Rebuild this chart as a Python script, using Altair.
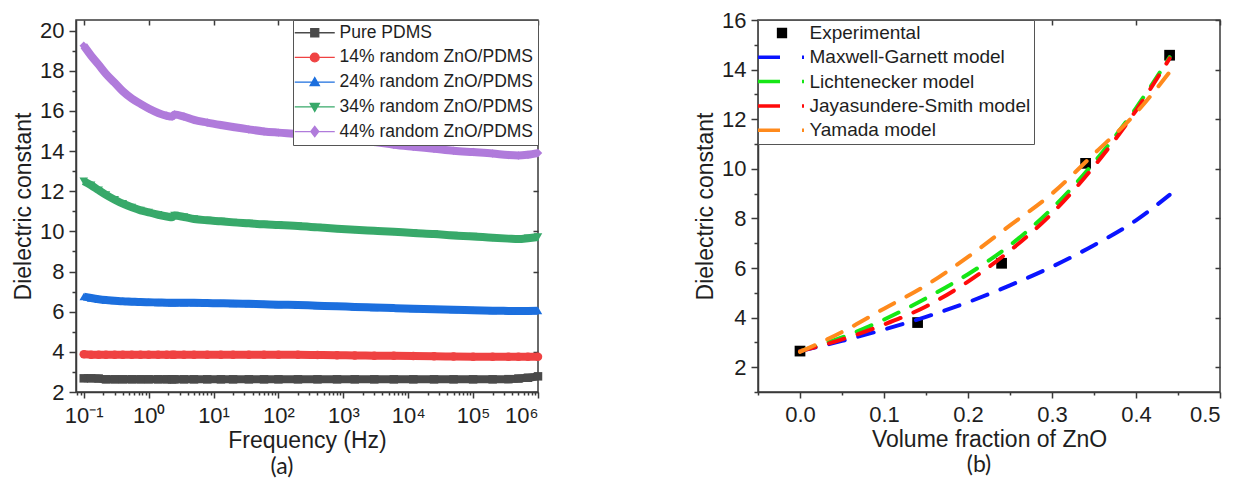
import json
import altair as alt
import pandas as pd

# ---------------- Panel (a): dielectric constant vs frequency ----------------
freq = [0.1, 0.13, 0.17, 0.22, 0.3, 0.4, 0.55, 0.75, 1, 1.4, 1.9, 2.3, 2.5, 3.5, 5, 8,
        13, 20, 35, 60, 100, 200, 400, 800, 1500, 3000, 6000, 12000, 25000, 50000,
        100000, 200000, 350000, 500000, 700000, 1000000]
pure_pdms = [2.68, 2.68, 2.67, 2.63, 2.63, 2.63, 2.63, 2.63, 2.63, 2.63, 2.63, 2.63,
             2.63, 2.63, 2.63, 2.63, 2.63, 2.63, 2.63, 2.63, 2.63, 2.63, 2.63, 2.63,
             2.63, 2.63, 2.63, 2.63, 2.63, 2.63, 2.63, 2.63, 2.64, 2.67, 2.71, 2.78]
zno14 = [3.88, 3.86, 3.85, 3.85, 3.85, 3.85, 3.85, 3.85, 3.85, 3.85, 3.85, 3.85,
         3.85, 3.85, 3.86, 3.86, 3.86, 3.86, 3.86, 3.86, 3.85, 3.85, 3.84, 3.83,
         3.82, 3.81, 3.80, 3.79, 3.78, 3.77, 3.76, 3.75, 3.75, 3.75, 3.75, 3.76]
zno24 = [6.75, 6.68, 6.62, 6.58, 6.55, 6.52, 6.50, 6.48, 6.47, 6.46, 6.45, 6.44,
         6.44, 6.44, 6.44, 6.43, 6.42, 6.41, 6.39, 6.37, 6.35, 6.33, 6.30, 6.27,
         6.24, 6.21, 6.18, 6.15, 6.12, 6.10, 6.07, 6.05, 6.04, 6.03, 6.04, 6.05]
zno34 = [12.50, 12.30, 12.05, 11.82, 11.58, 11.38, 11.20, 11.05, 10.95, 10.83, 10.74, 10.70,
         10.79, 10.72, 10.62, 10.55, 10.50, 10.45, 10.40, 10.35, 10.32, 10.27, 10.20, 10.13,
         10.08, 10.03, 9.98, 9.92, 9.87, 9.80, 9.75, 9.68, 9.64, 9.62, 9.66, 9.72]
zno44 = [19.25, 18.75, 18.30, 17.85, 17.40, 16.98, 16.62, 16.35, 16.12, 15.90, 15.76, 15.72,
         15.82, 15.72, 15.55, 15.42, 15.30, 15.20, 15.08, 14.98, 14.92, 14.85, 14.75, 14.65,
         14.55, 14.45, 14.32, 14.22, 14.12, 14.02, 13.95, 13.88, 13.80, 13.78, 13.82, 13.90]

series_a = ["Pure PDMS", "14% random ZnO/PDMS", "24% random ZnO/PDMS",
            "34% random ZnO/PDMS", "44% random ZnO/PDMS"]
colors_a = ["#4a4a4a", "#ef4242", "#1c6fde", "#38a96a", "#b07bdb"]
shapes_a = ["square", "circle", "triangle-up", "triangle-down", "diamond"]
legend_paths_a = [
    "M-5,0H5M-1,-1H1V1H-1Z",
    "M-5,0H5M-1.1,0A1.1,1.1,0,1,1,1.1,0A1.1,1.1,0,1,1,-1.1,0Z",
    "M-5,0H5M0,-1.15L1.15,0.85L-1.15,0.85Z",
    "M-5,0H5M0,1.15L1.15,-0.85L-1.15,-0.85Z",
    "M-5,0H5M0,-1.3L1,0L0,1.3L-1,0Z",
]
exp_labels = ["10⁻¹", "10⁰", "10¹", "10²", "10³", "10⁴", "10⁵", "10⁶"]
x_ticks_a = [0.08, 0.09] + [m * 10 ** e for e in range(-1, 6) for m in range(1, 10)] + [1000000]
y_ticks_a = list(range(2, 21))

rows = []
for name, vals in zip(series_a, [pure_pdms, zno14, zno24, zno34, zno44]):
    for f, v in zip(freq, vals):
        rows.append({"f": f, "eps": v, "series": name})
df_a = pd.DataFrame(rows)

# ---------------- Panel (b): dielectric constant vs volume fraction ----------------
phi_exp = [0.0, 0.14, 0.24, 0.34, 0.44]
eps_exp = [2.65, 3.80, 6.19, 10.22, 14.58]

phi_model = [0.0, 0.05, 0.10, 0.15, 0.20, 0.25, 0.30, 0.35, 0.40, 0.44]
maxwell_garnett = [2.65, 3.06, 3.52, 4.03, 4.62, 5.30, 6.05, 6.92, 7.92, 8.95]
lichtenecker = [2.65, 3.20, 3.92, 4.78, 5.75, 6.92, 8.40, 10.25, 12.45, 14.50]
jayasundere_smith = [2.65, 3.12, 3.72, 4.45, 5.45, 6.70, 8.20, 10.10, 12.35, 14.45]
yamada = [2.62, 3.42, 4.36, 5.30, 6.45, 7.72, 9.00, 10.60, 12.25, 13.90]

models_b = ["Maxwell-Garnett model", "Lichtenecker model",
            "Jayasundere-Smith model", "Yamada model"]
colors_models = ["#0a14ff", "#16e616", "#ff0a0a", "#ff8a1c"]
legend_b = ["Experimental"] + models_b
colors_legend_b = ["#000000"] + colors_models
legend_paths_b = ["M-0.85,-0.85H0.85V0.85H-0.85Z"] + ["M-6,0H-0.5M5,0H5.5"] * 4
x_ticks_b = [-0.05, 0.0, 0.05, 0.1, 0.15, 0.2, 0.25, 0.3, 0.35, 0.4, 0.45, 0.5]
y_ticks_b = list(range(1, 17))

rows = []
for name, vals in zip(models_b, [maxwell_garnett, lichtenecker, jayasundere_smith, yamada]):
    for p, v in zip(phi_model, vals):
        rows.append({"phi": p, "eps": v, "model": name})
df_models = pd.DataFrame(rows)
df_exp = pd.DataFrame({"phi": phi_exp, "eps": eps_exp, "model": "Experimental"})

# ---------------- styling helpers ----------------
FONT = "Liberation Sans"
TXT = "#1e1e1e"
AX = "#3a3a3a"

log_major = "abs(log(datum.value)/LN10 - round(log(datum.value)/LN10)) < 0.001"
even_major = "datum.value % 2 == 0"
tenth_major = "abs(datum.value*10 - round(datum.value*10)) < 0.001"

x_scale_a = alt.Scale(type="log", domain=[0.076, 1000000], nice=False)
y_scale_a = alt.Scale(domain=[2, 20.53], nice=False, zero=False)
x_scale_b = alt.Scale(domain=[-0.05, 0.5], nice=False, zero=False)
y_scale_b = alt.Scale(domain=[1, 16], nice=False, zero=False)

x_axis_a = alt.Axis(
    values=x_ticks_a, labelOverlap=False, grid=False,
    labelExpr=f"{log_major} ? {json.dumps(exp_labels, ensure_ascii=False)}[round(log(datum.value)/LN10)+1] : ''",
    tickSize={"condition": {"test": log_major, "value": 6}, "value": 3},
    labelPadding=7, title="Frequency (Hz)", titlePadding=3,
)
y_axis_a = alt.Axis(
    values=y_ticks_a, labelOverlap=False, grid=False,
    labelExpr=f"{even_major} ? datum.value : ''",
    tickSize={"condition": {"test": even_major, "value": 7}, "value": 4},
    labelPadding=5, title="Dielectric constant", titlePadding=4,
)
x_axis_b = alt.Axis(
    values=x_ticks_b, labelOverlap=False, grid=False,
    labelExpr=f"{tenth_major} ? format(datum.value, '.1f') : ''",
    tickSize={"condition": {"test": tenth_major, "value": 6}, "value": 3},
    labelPadding=6, title="Volume fraction of ZnO", titlePadding=3,
)
y_axis_b = alt.Axis(
    values=y_ticks_b, labelOverlap=False, grid=False,
    labelExpr=f"{even_major} ? datum.value : ''",
    tickSize={"condition": {"test": even_major, "value": 7}, "value": 4},
    labelPadding=5, title="Dielectric constant", titlePadding=4,
)

def mirror_axis(orient, values):
    return alt.Axis(orient=orient, values=values, labels=False, title=None, grid=False,
                    domain=False, tickSize=5, offset=-5)

# ---------------- Panel (a) layers ----------------
base_a = alt.Chart(df_a)
xa = alt.X("f:Q", scale=x_scale_a, axis=x_axis_a)
ya = alt.Y("eps:Q", scale=y_scale_a, axis=y_axis_a)
xa_n = alt.X("f:Q", scale=x_scale_a, axis=None)
ya_n = alt.Y("eps:Q", scale=y_scale_a, axis=None)
# colour scale for the data marks (domain listed in reverse so it is not merged
# with the legend-only scales below)
color_a = alt.Color("series:N",
                    scale=alt.Scale(domain=series_a[::-1], range=colors_a[::-1]),
                    legend=None)

lines_a = base_a.mark_line(strokeWidth=8, interpolate="monotone").encode(
    x=xa, y=ya, color=color_a)

point_layers = []
for name, shp in zip(series_a, shapes_a):
    point_layers.append(
        base_a.transform_filter(alt.datum.series == name)
        .mark_point(filled=True, size=72, opacity=1, shape=shp)
        .encode(x=xa_n, y=ya_n, color=color_a)
    )

legend_a = alt.Legend(
    title=None, orient="top-right", offset=0, padding=4, strokeColor="#555555",
    fillColor="white", labelFont=FONT, labelFontSize=17.5, labelColor=TXT,
    symbolSize=64, symbolStrokeWidth=1.3, symbolOffset=9, labelOffset=16,
    rowPadding=5.7, labelLimit=400,
)
legend_layer_a = base_a.transform_filter("false").mark_point(filled=True, opacity=1, size=64).encode(
    x=xa_n, y=ya_n,
    fill=alt.Fill("series:N", scale=alt.Scale(domain=series_a, range=colors_a), legend=legend_a),
    stroke=alt.Stroke("series:N", scale=alt.Scale(domain=series_a, range=colors_a), legend=legend_a),
    shape=alt.Shape("series:N", scale=alt.Scale(domain=series_a, range=legend_paths_a), legend=legend_a),
)
mirror_a = base_a.mark_point(opacity=0).encode(
    x=alt.X("f:Q", scale=x_scale_a,
            axis=mirror_axis("top", [0.1, 1, 10, 100, 1000, 10000, 100000, 1000000])),
    y=alt.Y("eps:Q", scale=y_scale_a, axis=mirror_axis("right", list(range(2, 21, 2)))),
)

chart_a = alt.layer(lines_a, *point_layers, legend_layer_a, mirror_a).resolve_axis(
    x="independent", y="independent").properties(
    width=462, height=372,
    title=alt.TitleParams("(a)", orient="bottom", anchor="middle", frame="group",
                          font="Lato", fontSize=23, fontWeight="normal", color=TXT,
                          offset=4, dx=-25),
)

# ---------------- Panel (b) layers ----------------
xb = alt.X("phi:Q", scale=x_scale_b, axis=x_axis_b)
yb = alt.Y("eps:Q", scale=y_scale_b, axis=y_axis_b)
xb_n = alt.X("phi:Q", scale=x_scale_b, axis=None)
yb_n = alt.Y("eps:Q", scale=y_scale_b, axis=None)
exp_b = alt.Chart(df_exp).mark_square(size=115, color="#000000", opacity=1).encode(x=xb, y=yb)
lines_b = alt.Chart(df_models).mark_line(
    strokeWidth=4, strokeDash=[16, 14], strokeCap="round", interpolate="monotone").encode(
    x=xb_n, y=yb_n,
    color=alt.Color("model:N", scale=alt.Scale(domain=models_b, range=colors_models), legend=None),
)
legend_b_obj = alt.Legend(
    title=None, orient="top-left", offset=0, padding=3.5, strokeColor="#555555",
    fillColor="white", labelFont=FONT, labelFontSize=19, labelColor=TXT,
    symbolSize=64, symbolStrokeWidth=3.5, symbolOffset=11, labelOffset=18,
    rowPadding=4.3, labelLimit=400,
)
legend_layer_b = alt.Chart(df_models).transform_filter("false").mark_point(
    filled=True, opacity=1, size=64).encode(
    x=xb_n, y=yb_n,
    fill=alt.Fill("model:N", scale=alt.Scale(domain=legend_b, range=colors_legend_b), legend=legend_b_obj),
    stroke=alt.Stroke("model:N", scale=alt.Scale(domain=legend_b, range=colors_legend_b), legend=legend_b_obj),
    shape=alt.Shape("model:N", scale=alt.Scale(domain=legend_b, range=legend_paths_b), legend=legend_b_obj),
)
mirror_b = alt.Chart(df_models).mark_point(opacity=0).encode(
    x=alt.X("phi:Q", scale=x_scale_b, axis=mirror_axis("top", [0.0, 0.1, 0.2, 0.3, 0.4, 0.5])),
    y=alt.Y("eps:Q", scale=y_scale_b, axis=mirror_axis("right", list(range(2, 17, 2)))),
)

chart_b = alt.layer(exp_b, lines_b, legend_layer_b, mirror_b).resolve_axis(
    x="independent", y="independent").properties(
    width=462, height=372,
    title=alt.TitleParams("(b)", orient="bottom", anchor="middle", frame="group",
                          font="Lato", fontSize=23, fontWeight="normal", color=TXT,
                          offset=3, dx=-10),
)

chart = alt.hconcat(chart_a, chart_b, spacing=220, bounds="flush").resolve_scale(
    color="independent", fill="independent", stroke="independent", shape="independent",
).resolve_legend(
    color="independent", fill="independent", stroke="independent", shape="independent",
).properties(
    padding={"left": 3, "top": 0, "right": 0, "bottom": 0},
    background="white",
).configure_view(
    stroke=AX, strokeWidth=1.5,
).configure_axis(
    labelFont=FONT, labelFontSize=22, labelColor=TXT,
    titleFont=FONT, titleFontSize=23, titleFontWeight="normal", titleColor=TXT,
    domainColor=AX, domainWidth=1.5, tickColor=AX, tickWidth=1.5,
)

chart.save("out.html", embed_options={"renderer": "svg", "actions": False})
